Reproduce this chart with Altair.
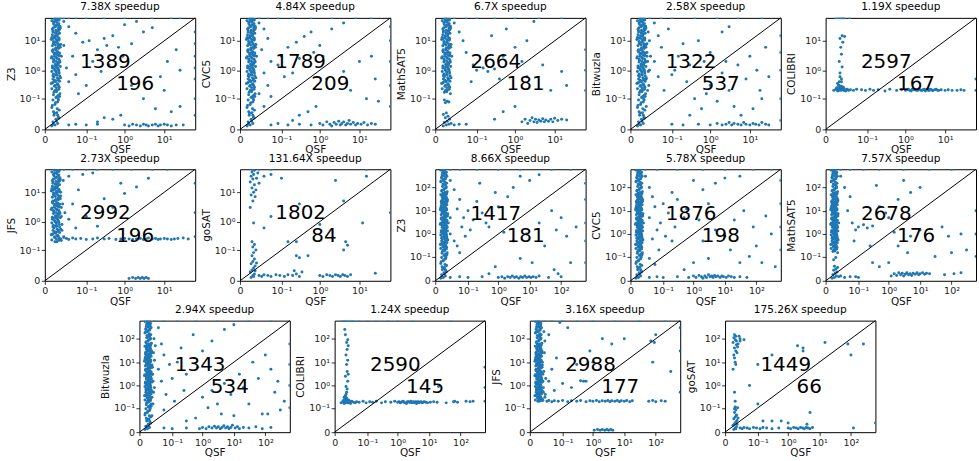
import altair as alt
import pandas as pd

SOLVERS = ["Z3", "CVC5", "MathSAT5", "Bitwuzla", "COLIBRI", "JFS", "goSAT",
           "Z3", "CVC5", "MathSAT5", "Bitwuzla", "COLIBRI", "JFS", "goSAT"]
TIMEOUTS = [60, 60, 60, 60, 60, 60, 60, 600, 600, 600, 600, 600, 600, 600]
SPEEDUPS = ["7.38X speedup", "4.84X speedup", "6.7X speedup", "2.58X speedup", "1.19X speedup",
            "2.73X speedup", "131.64X speedup", "8.66X speedup", "5.78X speedup", "7.57X speedup",
            "2.94X speedup", "1.24X speedup", "3.16X speedup", "175.26X speedup"]
ABOVE = [1389, 1789, 2664, 1322, 2597, 2992, 1802, 1417, 1876, 2678, 1343, 2590, 2988, 1449]
BELOW = [196, 209, 181, 537, 167, 196, 84, 181, 198, 176, 534, 145, 177, 66]
TICKS_60 = [0, 0.1, 1, 10]
TICKS_600 = [0, 0.1, 1, 10, 100]
# anchor of the two count labels (upper-left, lower-right) in data units
TEXT_AT_60 = [(0.067, 1.19), (0.61, 0.20)]
TEXT_AT_600 = [(0.123, 4.2), (1.85, 0.46)]

# (QSF time, solver time) pairs
BAND60 = [
    (0.005, 0.003), (0.008, 0.004), (0.011, 0.006), (0.006, 0.008), (0.009, 0.012), (0.012, 0.016),
    (0.007, 0.02), (0.010, 0.027), (0.013, 0.035), (0.005, 0.045), (0.008, 0.06), (0.011, 0.075),
    (0.006, 0.09), (0.009, 0.11), (0.012, 0.13), (0.014, 0.15), (0.007, 0.17), (0.010, 0.2),
    (0.005, 0.23), (0.013, 0.26), (0.008, 0.3), (0.011, 0.34), (0.006, 0.38), (0.009, 0.43),
    (0.012, 0.5), (0.015, 0.55), (0.007, 0.6), (0.010, 0.7), (0.013, 0.8), (0.005, 0.9),
    (0.008, 1.0), (0.011, 1.15), (0.006, 1.3), (0.009, 1.5), (0.012, 1.7), (0.014, 1.9),
    (0.007, 2.2), (0.010, 2.5), (0.005, 2.9), (0.013, 3.3), (0.008, 3.8), (0.011, 4.3),
    (0.006, 5.0), (0.009, 5.7), (0.012, 6.5), (0.015, 7.5), (0.007, 8.5), (0.010, 10),
    (0.013, 11.5), (0.005, 13), (0.008, 15), (0.011, 17), (0.006, 20), (0.009, 23),
    (0.012, 27), (0.014, 31), (0.007, 36), (0.010, 42), (0.005, 48), (0.013, 55),
    (0.008, 58), (0.011, 0.02), (0.009, 0.7), (0.006, 12), (0.012, 0.09), (0.016, 3),
    (0.0065, 0.005), (0.0095, 0.009), (0.0125, 0.014), (0.0075, 0.025), (0.0105, 0.04), (0.0055, 0.055),
    (0.0085, 0.07), (0.0115, 0.1), (0.0135, 0.12), (0.0065, 0.14), (0.0095, 0.18), (0.0125, 0.22),
    (0.0075, 0.28), (0.0105, 0.32), (0.0055, 0.36), (0.0085, 0.4), (0.0115, 0.46), (0.0135, 0.65),
    (0.0065, 0.75), (0.0095, 0.85), (0.0125, 0.95), (0.0075, 1.1), (0.0105, 1.25), (0.0055, 1.4),
    (0.0085, 1.6), (0.0115, 1.8), (0.0135, 2.1), (0.0065, 2.4), (0.0095, 2.7), (0.0125, 3.1),
    (0.0075, 3.5), (0.0105, 4), (0.0055, 4.6), (0.0085, 5.3), (0.0115, 6), (0.0135, 7),
    (0.0065, 8), (0.0095, 9), (0.0125, 10.5), (0.0075, 12.5), (0.0105, 14), (0.0055, 16),
    (0.0085, 18.5), (0.0115, 21), (0.0135, 24), (0.0065, 28), (0.0095, 33), (0.0125, 38),
    (0.0075, 45), (0.0105, 52),
    (0.0045, 0.35), (0.0075, 0.45), (0.0105, 0.55), (0.0135, 0.42), (0.006, 0.65), (0.009, 0.95),
    (0.012, 1.05), (0.0145, 1.35), (0.0055, 1.2), (0.0085, 1.35), (0.0115, 1.5), (0.0065, 1.9),
    (0.0095, 2.0), (0.0125, 2.4), (0.0045, 2.6), (0.0075, 3.0), (0.0105, 3.4), (0.0135, 3.9),
    (0.006, 4.2), (0.009, 4.8), (0.012, 5.5), (0.0145, 6.0), (0.0055, 6.8), (0.0085, 7.2),
    (0.0115, 8.0), (0.0065, 9.5), (0.0095, 11), (0.0125, 12.5), (0.0045, 11), (0.0075, 13.5),
    (0.0105, 16), (0.0135, 18), (0.006, 22), (0.009, 19), (0.012, 23), (0.0145, 27),
    (0.0055, 25), (0.0085, 30), (0.0115, 34), (0.0065, 40), (0.0095, 46), (0.0125, 50),
    (0.0075, 55), (0.0105, 60), (0.006, 0.5), (0.0095, 0.25), (0.012, 0.3), (0.008, 0.2),
    (0.0105, 0.12), (0.0065, 0.03),
]
BAND600_TOP = [
    (0.006, 70), (0.009, 80), (0.012, 95), (0.007, 110), (0.010, 130), (0.013, 150), (0.005, 175),
    (0.008, 200), (0.011, 230), (0.006, 270), (0.009, 310), (0.012, 360), (0.007, 420), (0.010, 480),
    (0.005, 550), (0.008, 590), (0.014, 65), (0.011, 120), (0.006, 250),
    (0.0065, 75), (0.0095, 90), (0.0125, 105), (0.0075, 140), (0.0105, 165), (0.0055, 190),
    (0.0085, 220), (0.0115, 260), (0.0135, 300), (0.0065, 340), (0.0095, 390), (0.0125, 450),
    (0.0075, 520), (0.0105, 580),
]

Z3_60 = [
    (0.02, 45), (0.03, 30), (0.05, 18), (0.02, 7), (0.04, 3), (0.025, 1.2), (0.03, 0.4), (0.06, 0.15),
    (0.1, 0.3), (0.2, 5), (0.3, 12), (0.15, 2), (0.5, 15), (1, 35), (2, 45), (0.4, 1.5), (0.25, 0.9),
    (0.7, 6), (3, 20), (5, 28), (0.12, 10), (1.5, 8), (0.08, 9), (0.35, 7), (0.9, 3), (0.05, 0.7),
    (0.02, 60), (0.03, 60), (0.05, 60), (0.1, 60), (0.3, 60), (1, 60), (5, 60), (15, 60), (0.015, 60), (25, 60),
    (1.5, 0.3), (3, 0.1), (8, 0.6), (12, 2), (20, 5), (25, 0.05), (10, 0.2), (0.8, 0.02), (0.5, 0.012),
    (0.3, 0.015), (0.2, 0.008), (15, 0.03), (6, 0.04), (25, 1),
    (0.03, 0.004), (0.05, 0.005), (0.1, 0.004), (0.2, 0.005), (1.0, 0.004), (1.3, 0.003), (1.6, 0.005),
    (2, 0.004), (2.5, 0.003), (3, 0.005), (3.5, 0.004), (4, 0.003), (5, 0.004), (6, 0.005), (7, 0.003),
    (8, 0.004), (10, 0.005), (12, 0.004), (15, 0.003), (20, 0.004), (30, 0.004),
    (60, 0.5), (60, 3), (60, 8), (60, 0.02), (60, 20), (60, 0.1), (60, 1.2),
]
CVC5_60 = [
    (0.02, 40), (0.03, 25), (0.04, 12), (0.025, 5), (0.05, 2), (0.03, 0.8), (0.04, 0.3), (0.02, 0.15),
    (0.08, 1.5), (0.1, 3), (0.15, 6), (0.25, 9), (0.4, 14), (0.6, 20), (1, 7), (2, 25), (4, 40), (0.2, 0.8),
    (0.3, 2.5), (0.7, 4), (0.05, 0.12), (0.12, 0.6), (1.2, 3), (0.03, 0.05),
    (0.02, 60), (0.04, 60), (0.08, 60), (0.2, 60), (0.6, 60), (2, 60), (8, 60), (20, 60),
    (1.5, 0.5), (4, 0.9), (10, 2), (20, 3), (0.8, 0.05), (0.5, 0.03), (0.3, 0.02), (15, 0.1), (25, 0.5),
    (6, 0.2), (0.2, 0.01), (30, 0.08),
    (0.05, 0.004), (0.08, 0.006), (0.15, 0.004), (0.3, 0.005), (0.6, 0.004), (1.0, 0.006), (1.2, 0.004),
    (1.5, 0.008), (1.8, 0.005), (2, 0.003), (2.3, 0.007), (2.6, 0.005), (3, 0.009), (3.3, 0.004),
    (3.6, 0.006), (4, 0.008), (4.5, 0.004), (5, 0.006), (5.5, 0.01), (6, 0.005), (7, 0.007), (8, 0.004),
    (9, 0.006), (11, 0.005), (13, 0.007), (16, 0.004), (20, 0.006), (25, 0.005),
    (60, 0.3), (60, 2), (60, 10), (60, 0.05), (60, 30),
]
MATH_60 = [
    (0.008, 0.07), (0.01, 0.08), (0.007, 0.09), (0.012, 0.075),
    (0.006, 0.003), (0.009, 0.004), (0.012, 0.005), (0.007, 0.007), (0.010, 0.009), (0.013, 0.012),
    (0.008, 0.015), (0.011, 0.018), (0.006, 0.022), (0.009, 0.026), (0.015, 0.006), (0.02, 0.004),
    (0.03, 0.005), (0.05, 0.005),
    (0.02, 40), (0.03, 20), (0.04, 10), (0.05, 4), (0.08, 1.5), (0.1, 1), (0.15, 1.2), (0.2, 0.9),
    (0.3, 1.1), (0.5, 3), (1, 6), (2, 10), (0.25, 15), (0.6, 25), (3, 45), (0.07, 0.4), (0.4, 0.5), (1.5, 2),
    (0.02, 60), (0.05, 60), (0.1, 60), (0.3, 60), (1, 60), (4, 60), (15, 60),
    (2, 0.6), (5, 1.5), (15, 0.9), (20, 0.3), (8, 0.2), (1, 0.05), (0.5, 0.03), (0.3, 0.012),
    (1.5, 0.008), (1.8, 0.012), (2.1, 0.006), (2.4, 0.01), (2.7, 0.015), (3, 0.008), (3.3, 0.012),
    (3.6, 0.007), (4, 0.011), (4.5, 0.009), (5, 0.013), (5.5, 0.008), (6, 0.011), (7, 0.009), (8, 0.012),
    (9, 0.008), (10, 0.014), (12, 0.01), (15, 0.012), (20, 0.011),
    (60, 1), (60, 5), (60, 0.2),
]
BITW_60 = [
    (0.015, 0.5), (0.017, 2), (0.016, 8), (0.018, 20), (0.015, 0.05), (0.017, 0.2), (0.02, 1), (0.016, 4),
    (0.018, 0.9), (0.02, 10), (0.019, 0.3), (0.022, 3),
    (0.03, 40), (0.04, 15), (0.05, 6), (0.03, 2), (0.04, 0.6), (0.06, 0.2), (0.1, 0.7), (0.15, 3), (0.2, 8),
    (0.3, 1.5), (0.5, 10), (1, 4), (2, 20), (0.08, 25), (0.25, 0.4), (0.7, 2), (3, 30), (0.12, 1),
    (0.02, 60), (0.05, 60), (0.1, 60), (0.4, 60), (1.5, 60), (5, 60), (20, 60),
    (1, 0.3), (2, 0.8), (3, 0.2), (5, 1.5), (8, 0.5), (10, 3), (15, 1), (20, 0.1), (25, 6), (4, 0.05),
    (1.5, 0.08), (0.6, 0.04), (0.4, 0.1), (0.3, 0.02), (6, 0.02), (12, 0.04), (18, 0.2), (30, 0.6),
    (0.8, 0.15), (2.5, 2),
    (0.1, 0.005), (0.2, 0.004), (0.5, 0.005), (1, 0.004), (1.5, 0.006), (2, 0.004), (2.5, 0.005),
    (3, 0.007), (3.5, 0.004), (4, 0.006), (5, 0.005), (6, 0.004), (7, 0.007), (8, 0.005), (10, 0.004),
    (12, 0.006), (14, 0.005), (17, 0.004), (20, 0.007), (25, 0.005), (30, 0.004),
    (60, 0.1), (60, 1), (60, 4), (60, 15), (60, 0.01),
]
COLIBRI_60 = [
    (0.012, 0.3), (0.015, 0.5), (0.013, 0.8), (0.016, 1.3), (0.012, 2), (0.015, 3.5), (0.014, 6),
    (0.017, 9), (0.013, 12), (0.016, 15), (0.02, 14), (0.015, 0.4), (0.013, 0.6), (0.017, 0.25),
    (0.008, 60), (0.01, 60), (0.012, 60), (0.014, 60), (0.016, 60), (0.018, 60), (0.02, 60), (0.03, 60),
    (0.006, 0.2), (0.008, 0.22), (0.01, 0.19), (0.012, 0.21), (0.014, 0.2), (0.016, 0.23), (0.018, 0.2),
    (0.02, 0.21), (0.022, 0.19), (0.025, 0.22), (0.028, 0.2), (0.032, 0.21), (0.04, 0.2), (0.05, 0.22),
    (0.07, 0.21), (0.09, 0.2), (0.12, 0.22), (0.15, 0.2), (0.2, 0.21), (0.3, 0.19), (0.4, 0.22), (0.6, 0.2),
    (0.8, 0.21), (1.0, 0.2), (1.2, 0.22), (1.4, 0.19), (1.6, 0.21), (1.9, 0.2), (2.2, 0.22), (2.5, 0.2),
    (2.8, 0.21), (3.2, 0.19), (3.6, 0.22), (4, 0.2), (4.5, 0.21), (5, 0.2), (6, 0.22), (7, 0.2), (8, 0.21),
    (10, 0.2), (12, 0.21), (15, 0.2), (20, 0.2), (25, 0.21), (30, 0.2),
    (0.009, 0.25), (0.011, 0.3), (0.013, 0.27), (0.01, 0.35), (0.015, 0.28), (0.018, 0.26), (0.012, 0.4),
    (0.0095, 0.21), (0.0105, 0.23), (0.0115, 0.2), (0.0125, 0.24), (0.0135, 0.22), (0.0145, 0.25),
    (0.0155, 0.21), (0.0165, 0.24), (0.0175, 0.22), (0.019, 0.23), (0.021, 0.2), (0.024, 0.21),
    (1.1, 0.21), (1.3, 0.2), (1.5, 0.22), (1.75, 0.21), (2.05, 0.2), (2.35, 0.21), (2.65, 0.2),
    (3.0, 0.22), (3.4, 0.21), (3.8, 0.2), (4.2, 0.22), (4.8, 0.2), (5.5, 0.21), (6.5, 0.2),
    (60, 0.2), (60, 0.5),
]
JFS_60 = [
    (0.015, 0.25), (0.017, 0.5), (0.016, 1.5), (0.018, 4), (0.02, 0.3), (0.015, 10), (0.019, 25),
    (0.017, 0.8), (0.022, 2), (0.016, 0.22), (0.02, 0.28),
    (0.025, 0.26), (0.03, 0.24), (0.04, 0.27), (0.05, 0.25), (0.07, 0.26), (0.1, 0.24), (0.15, 0.25),
    (0.2, 0.27), (0.3, 0.25), (0.4, 0.26), (0.6, 0.24), (0.8, 0.25), (1, 0.26), (1.3, 0.25), (1.6, 0.24),
    (2, 0.25), (2.5, 0.26), (3, 0.24), (3.5, 0.25), (4, 0.27), (5, 0.25), (6, 0.26), (7, 0.24), (8, 0.25),
    (10, 0.26), (12, 0.25), (15, 0.24), (18, 0.25), (22, 0.26), (30, 0.27), (40, 0.25),
    (0.03, 1.2), (0.05, 0.6), (0.04, 4), (0.06, 12), (0.1, 1.5), (0.2, 0.7), (0.3, 6), (0.5, 3), (0.8, 20),
    (1, 9), (2, 15), (4, 30), (0.15, 45), (0.03, 35), (0.08, 40),
    (0.02, 60), (0.04, 60), (0.1, 60), (0.2, 60), (0.5, 60), (1.5, 60), (5, 60), (12, 60),
    (1.3, 0.002), (1.6, 0.003), (1.9, 0.002), (2.2, 0.003), (2.5, 0.002), (2.8, 0.003), (3.1, 0.002),
    (3.5, 0.003), (4, 0.002),
    (60, 0.3), (60, 2), (60, 20),
]
GOSAT_60 = [
    (0.008, 3), (0.011, 5), (0.009, 8), (0.012, 10), (0.01, 14), (0.013, 18), (0.008, 22), (0.011, 28),
    (0.009, 35), (0.012, 40), (0.01, 48), (0.013, 55), (0.015, 12), (0.016, 30), (0.014, 7), (0.02, 20),
    (0.018, 45),
    (0.009, 0.003), (0.011, 0.005), (0.013, 0.007), (0.008, 0.01), (0.01, 0.013), (0.012, 0.017),
    (0.014, 0.022), (0.009, 0.028), (0.011, 0.035), (0.013, 0.045), (0.01, 0.06), (0.012, 0.08),
    (0.015, 0.1), (0.011, 0.13), (0.013, 0.16), (0.01, 0.2), (0.014, 0.012), (0.016, 0.03), (0.012, 0.004),
    (0.02, 0.005), (0.025, 0.004), (0.03, 0.006), (0.04, 0.005), (0.05, 0.004), (0.07, 0.006),
    (0.09, 0.005), (0.12, 0.004), (0.15, 0.006), (0.2, 0.005), (0.25, 0.007), (0.3, 0.004), (0.22, 0.012),
    (0.35, 0.01),
    (1.0, 0.005), (1.2, 0.004), (1.5, 0.006), (1.8, 0.005), (2.1, 0.004), (2.5, 0.006), (2.9, 0.005),
    (3.3, 0.004), (3.8, 0.006), (4.3, 0.005), (5, 0.004), (6, 0.006),
    (0.012, 0.9), (0.03, 0.6), (0.05, 1.5), (0.03, 35), (0.05, 40), (0.1, 30), (0.3, 4), (0.25, 0.2),
    (0.15, 0.2), (1, 0.8), (4, 5), (4.5, 0.2), (5, 0.15), (12, 0.9), (15, 35), (2.5, 25), (0.5, 0.06),
    (0.3, 0.05), (0.25, 0.06), (4, 0.1), (25, 0.008),
    (0.01, 60), (0.02, 60), (0.05, 60), (15, 60), (60, 2),
]
Z3_600 = [
    (0.02, 200), (0.03, 80), (0.05, 30), (0.04, 12), (0.02, 5), (0.06, 2), (0.08, 0.8), (0.1, 10),
    (0.15, 4), (0.2, 25), (0.3, 8), (0.5, 2), (0.8, 60), (1, 15), (2, 40), (3, 100), (5, 300), (10, 200),
    (0.03, 0.5), (0.05, 0.15), (0.12, 1.5), (0.4, 3), (1.5, 1.2), (0.25, 150), (0.07, 5), (0.02, 1),
    (0.04, 0.3), (20, 350),
    (0.02, 600), (0.05, 600), (0.2, 600), (1, 600), (5, 600), (50, 600), (200, 600),
    (3, 0.5), (8, 1), (20, 3), (50, 10), (100, 5), (70, 1.5), (150, 0.8), (300, 2), (30, 0.3), (5, 0.08),
    (12, 0.05), (0.8, 0.03), (0.5, 0.01), (60, 0.02), (200, 0.05), (80, 0.01), (20, 0.006),
    (0.02, 0.004), (0.05, 0.005), (0.1, 0.004), (0.3, 0.005), (1, 0.004), (1.3, 0.005), (1.6, 0.003),
    (2, 0.005), (2.4, 0.004), (2.8, 0.006), (3.3, 0.004), (3.8, 0.005), (4.5, 0.003), (5.2, 0.005),
    (6, 0.004), (7, 0.006), (8, 0.004), (9.5, 0.005), (11, 0.004), (13, 0.005), (16, 0.004), (40, 0.004),
    (100, 0.005),
    (600, 0.5), (600, 3), (600, 30), (600, 0.05), (600, 150),
]
CVC5_600 = [
    (0.02, 300), (0.03, 100), (0.04, 40), (0.05, 15), (0.03, 5), (0.06, 1.5), (0.08, 3), (0.1, 20),
    (0.15, 8), (0.2, 60), (0.3, 30), (0.5, 5), (1, 200), (2, 80), (3, 20), (5, 150), (10, 250), (0.04, 0.6),
    (0.07, 0.2), (0.12, 0.8), (0.25, 2), (0.6, 12), (1.5, 4), (0.03, 0.08), (0.05, 0.04), (30, 300),
    (0.2, 0.5),
    (0.02, 600), (0.06, 600), (0.3, 600), (2, 600), (10, 600), (80, 600), (300, 600),
    (2, 0.5), (5, 1.5), (10, 0.8), (20, 4), (40, 10), (80, 2), (100, 0.3), (200, 6), (300, 1), (150, 0.05),
    (60, 0.1), (30, 0.05), (15, 0.2), (3, 0.08), (1, 0.05), (0.5, 0.02), (400, 0.03),
    (0.03, 0.004), (0.06, 0.005), (0.1, 0.004), (0.3, 0.005), (0.7, 0.004), (1, 0.006), (1.2, 0.004),
    (1.5, 0.007), (1.8, 0.005), (2, 0.003), (2.3, 0.006), (2.6, 0.004), (3, 0.008), (3.4, 0.005),
    (3.8, 0.006), (4.2, 0.004), (4.7, 0.007), (5.2, 0.005), (6, 0.006), (7, 0.004), (8, 0.006),
    (9, 0.005), (11, 0.004), (13, 0.006), (16, 0.005), (20, 0.004), (30, 0.005), (50, 0.004),
    (600, 0.2), (600, 2), (600, 20), (600, 200),
]
MATH_600 = [
    (0.008, 0.07), (0.011, 0.09), (0.006, 0.003), (0.009, 0.004), (0.012, 0.006), (0.007, 0.008),
    (0.010, 0.011), (0.013, 0.014), (0.008, 0.018), (0.011, 0.022), (0.014, 0.027), (0.009, 0.032),
    (0.016, 0.005), (0.02, 0.006), (0.03, 0.004), (0.05, 0.005), (0.08, 0.005), (0.1, 0.004),
    (0.02, 300), (0.03, 100), (0.05, 40), (0.04, 10), (0.06, 3), (0.08, 1.5), (0.1, 2), (0.15, 2.5),
    (0.2, 1.8), (0.3, 2.2), (0.5, 15), (1, 5), (2, 30), (0.4, 120), (3, 200), (0.07, 0.5), (0.25, 0.3),
    (1.5, 1.2), (5, 60), (10, 100), (0.8, 8),
    (0.02, 600), (0.05, 600), (0.15, 600), (0.5, 600), (3, 600), (20, 600), (100, 600),
    (2, 0.3), (5, 0.8), (10, 1.5), (20, 0.5), (50, 2), (80, 0.8), (100, 0.15), (200, 1), (300, 0.2),
    (30, 0.1), (1, 0.05), (0.5, 0.03), (0.3, 0.05), (4, 0.15),
    (1.2, 0.006), (1.5, 0.01), (1.8, 0.007), (2.1, 0.012), (2.4, 0.008), (2.7, 0.011), (3, 0.006),
    (3.4, 0.009), (3.8, 0.012), (4.3, 0.008), (4.8, 0.01), (5.4, 0.007), (6, 0.011), (7, 0.009),
    (8, 0.012), (9, 0.008), (10, 0.01), (12, 0.012), (14, 0.009), (16, 0.011), (20, 0.01), (60, 0.008),
    (120, 0.01), (200, 0.012),
    (600, 1), (600, 10), (600, 0.1),
]
BITW_600 = [
    (0.015, 0.3), (0.017, 1.5), (0.016, 6), (0.018, 25), (0.015, 0.04), (0.017, 0.15), (0.02, 0.8),
    (0.016, 3), (0.019, 100), (0.02, 12), (0.018, 0.5), (0.022, 50),
    (0.03, 300), (0.04, 60), (0.05, 20), (0.03, 5), (0.04, 1.5), (0.06, 0.4), (0.1, 2), (0.15, 10),
    (0.2, 40), (0.3, 3), (0.5, 150), (1, 30), (2, 80), (0.08, 8), (0.25, 0.6), (0.7, 6), (5, 250),
    (0.12, 0.2), (10, 400), (0.05, 0.08),
    (0.02, 600), (0.05, 600), (0.15, 600), (0.6, 600), (3, 600), (30, 600), (150, 600),
    (1, 0.3), (2, 0.6), (3, 0.15), (5, 1.2), (8, 0.4), (15, 3), (20, 0.8), (40, 10), (60, 2), (100, 20),
    (150, 5), (200, 0.5), (300, 0.08), (80, 0.05), (30, 0.15), (10, 0.04), (4, 0.05), (1.5, 0.1),
    (0.6, 0.03), (0.3, 0.02), (400, 0.2), (250, 1.5), (120, 0.05),
    (0.05, 0.005), (0.1, 0.004), (0.3, 0.005), (0.8, 0.004), (1, 0.006), (1.3, 0.004), (1.6, 0.007),
    (2, 0.005), (2.4, 0.008), (2.8, 0.005), (3.2, 0.007), (3.7, 0.004), (4.2, 0.006), (4.8, 0.009),
    (5.5, 0.005), (6.3, 0.007), (7, 0.004), (8, 0.006), (9, 0.01), (11, 0.005), (13, 0.007), (15, 0.004),
    (20, 0.006), (30, 0.005), (50, 0.007), (80, 0.004), (150, 0.006),
    (600, 0.1), (600, 1), (600, 8), (600, 60),
]
COLIBRI_600 = [
    (0.012, 0.3), (0.014, 0.5), (0.013, 0.9), (0.016, 1.5), (0.012, 2.5), (0.015, 4), (0.014, 8),
    (0.016, 12), (0.013, 20), (0.015, 35), (0.017, 50), (0.014, 70), (0.016, 90), (0.012, 150),
    (0.011, 250), (0.015, 0.7), (0.013, 0.4), (0.017, 3),
    (0.008, 600), (0.01, 600), (0.012, 600), (0.015, 600), (0.02, 600), (0.025, 600), (0.03, 600),
    (0.05, 600), (0.1, 600), (0.2, 600), (0.5, 600), (1, 600), (3, 600), (50, 600),
    (0.006, 0.17), (0.008, 0.19), (0.01, 0.16), (0.012, 0.18), (0.014, 0.2), (0.016, 0.17), (0.018, 0.19),
    (0.02, 0.18), (0.022, 0.16), (0.025, 0.2), (0.03, 0.18), (0.035, 0.17), (0.04, 0.19), (0.05, 0.18),
    (0.07, 0.2), (0.09, 0.17), (0.12, 0.19), (0.15, 0.18), (0.2, 0.2), (0.3, 0.17), (0.4, 0.19), (0.6, 0.18),
    (0.8, 0.2), (1.0, 0.18), (1.2, 0.17), (1.4, 0.19), (1.6, 0.18), (1.9, 0.16), (2.2, 0.19), (2.5, 0.18),
    (2.8, 0.17), (3.2, 0.19), (3.6, 0.18), (4, 0.16), (4.5, 0.19), (5, 0.18), (6, 0.17), (7, 0.19),
    (8, 0.18), (9, 0.17), (11, 0.18), (14, 0.19), (18, 0.18), (35, 0.17), (60, 0.19), (65, 0.2),
    (80, 0.18), (150, 0.2), (200, 0.19), (250, 0.2),
    (0.009, 0.22), (0.011, 0.26), (0.013, 0.24), (0.01, 0.3), (0.015, 0.22), (0.018, 0.23), (0.012, 0.35),
    (0.014, 0.28),
    (0.0095, 0.18), (0.0105, 0.2), (0.0115, 0.17), (0.0125, 0.21), (0.0135, 0.19), (0.0145, 0.22),
    (0.0155, 0.18), (0.0165, 0.21), (0.0175, 0.17), (0.019, 0.2), (0.021, 0.19),
    (1.1, 0.19), (1.3, 0.18), (1.5, 0.2), (1.75, 0.17), (2.05, 0.19), (2.35, 0.18), (2.65, 0.2),
    (3.0, 0.18), (3.4, 0.17), (3.8, 0.19), (4.2, 0.18), (4.8, 0.17), (5.5, 0.19), (6.5, 0.18),
    (20, 0.9), (600, 0.2), (600, 6), (600, 0.8),
]
JFS_600 = [
    (0.015, 0.25), (0.017, 0.5), (0.016, 1.5), (0.018, 4), (0.02, 0.3), (0.015, 10), (0.019, 25),
    (0.017, 0.8), (0.022, 2), (0.016, 0.22), (0.02, 80), (0.018, 200), (0.021, 0.4),
    (0.025, 0.2), (0.03, 0.22), (0.04, 0.19), (0.05, 0.21), (0.07, 0.2), (0.1, 0.22), (0.15, 0.19),
    (0.2, 0.21), (0.3, 0.2), (0.4, 0.22), (0.6, 0.19), (0.8, 0.21), (1, 0.2), (1.3, 0.22), (1.6, 0.19),
    (2, 0.21), (2.5, 0.2), (3, 0.22), (3.5, 0.19), (4, 0.21), (5, 0.2), (6, 0.22), (7, 0.19), (8, 0.21),
    (10, 0.2), (12, 0.22), (15, 0.19), (18, 0.21), (60, 0.2), (80, 0.22), (100, 0.19), (150, 0.21),
    (200, 0.2),
    (0.03, 1.5), (0.05, 0.6), (0.04, 5), (0.06, 15), (0.1, 1.2), (0.2, 0.8), (0.3, 8), (0.5, 1.5),
    (0.8, 30), (1, 10), (2, 100), (4, 60), (0.15, 300), (0.03, 150), (0.08, 500), (0.6, 1.5), (0.4, 1.6),
    (10, 100), (80, 10), (100, 150), (300, 4), (70, 80), (90, 70),
    (0.02, 600), (0.04, 600), (0.1, 600), (0.3, 600), (1, 600), (5, 600), (30, 600), (200, 600),
    (1.1, 0.002), (1.4, 0.003), (1.7, 0.002), (2, 0.003), (2.4, 0.002), (2.8, 0.003), (3.2, 0.002),
    (3.7, 0.003), (4.3, 0.002),
    (600, 0.5), (600, 30), (600, 300),
]
GOSAT_600 = [
    (0.008, 5), (0.011, 10), (0.009, 20), (0.012, 30), (0.01, 40), (0.013, 55), (0.008, 70), (0.011, 90),
    (0.009, 110), (0.012, 130), (0.01, 150), (0.013, 80), (0.015, 45), (0.016, 60), (0.014, 25),
    (0.02, 100), (0.018, 130), (0.01, 15), (0.012, 8),
    (0.009, 0.003), (0.011, 0.005), (0.013, 0.007), (0.008, 0.01), (0.01, 0.013), (0.012, 0.017),
    (0.014, 0.022), (0.009, 0.028), (0.011, 0.035), (0.013, 0.045), (0.01, 0.06), (0.012, 0.08),
    (0.015, 0.1), (0.011, 0.11), (0.013, 0.04), (0.01, 0.09), (0.014, 0.012), (0.016, 0.03),
    (0.012, 0.004), (0.011, 0.2), (0.01, 0.5),
    (0.02, 0.005), (0.025, 0.004), (0.03, 0.006), (0.04, 0.005), (0.05, 0.004), (0.07, 0.006),
    (0.09, 0.005), (0.12, 0.004), (0.15, 0.006), (0.2, 0.005), (0.3, 0.004), (0.5, 0.005),
    (1.0, 0.005), (1.2, 0.004), (1.5, 0.006), (1.8, 0.005), (2.1, 0.004), (2.5, 0.006), (2.9, 0.005),
    (3.3, 0.004), (3.8, 0.006), (4.3, 0.005), (5, 0.004), (6, 0.006),
    (0.02, 80), (0.03, 90), (0.05, 1), (0.1, 8), (0.3, 20), (0.1, 0.15), (0.15, 0.02), (0.3, 0.02),
    (0.6, 0.02), (1, 0.015), (4, 0.012), (5, 0.06), (2, 50), (3, 40), (3, 30), (15, 70), (80, 60),
    (250, 60), (100, 20), (120, 0.005), (600, 0.015),
]

BAND600 = BAND60 + BAND600_TOP
POINTS = [
    BAND60 + Z3_60,
    BAND60 + CVC5_60,
    [p for p in BAND60 if p[1] >= 0.15] + MATH_60,
    BAND60 + BITW_60,
    COLIBRI_60,
    [p for p in BAND60 if p[1] >= 0.2] + JFS_60,
    GOSAT_60,
    BAND600 + Z3_600,
    BAND600 + CVC5_600,
    [p for p in BAND600 if p[1] >= 0.15] + MATH_600,
    BAND600 + BITW_600,
    COLIBRI_600,
    [p for p in BAND600 if p[1] >= 0.2] + JFS_600,
    GOSAT_600,
]

LABEL_EXPR = ("datum.value == 0 ? '0' : datum.value < 0.5 ? '10\u207b\u00b9' : "
              "datum.value < 5 ? '10\u2070' : datum.value < 50 ? '10\u00b9' : '10\u00b2'")

W, H = 151, 112
BLUE = "#1f77b4"


def panel(i):
    m = TIMEOUTS[i]
    ticks = TICKS_60 if m == 60 else TICKS_600
    (ax, ay), (bx, by) = TEXT_AT_60 if m == 60 else TEXT_AT_600
    sc = alt.Scale(type="symlog", constant=0.01, domain=[0, m], nice=False)
    x_axis = alt.Axis(values=ticks, labelExpr=LABEL_EXPR, title="QSF",
                      labelFlush=False, labelOverlap=False, titlePadding=1)
    y_axis = alt.Axis(values=ticks, labelExpr=LABEL_EXPR, title=SOLVERS[i],
                      labelOverlap=False, titlePadding=3)
    enc = dict(x=alt.X("qsf:Q", scale=sc, axis=x_axis), y=alt.Y("solver:Q", scale=sc, axis=y_axis))
    df = pd.DataFrame(POINTS[i], columns=["qsf", "solver"])
    pts = alt.Chart(df).mark_circle(size=9, color=BLUE, opacity=1, clip=True).encode(**enc)
    diag = alt.Chart(pd.DataFrame({"qsf": [0, m], "solver": [0, m]})).mark_line(
        color="black", strokeWidth=1).encode(**enc)
    txt = alt.Chart(pd.DataFrame({"qsf": [ax, bx], "solver": [ay, by],
                                  "t": [str(ABOVE[i]), str(BELOW[i])]})).mark_text(
        align="left", baseline="alphabetic", fontSize=20, font="DejaVu Sans", color="black").encode(
        text="t:N", **enc)
    return alt.layer(pts, diag, txt).properties(
        width=W, height=H, title=alt.TitleParams(SPEEDUPS[i], anchor="middle"))


spacer = alt.Chart(pd.DataFrame({"v": [0]})).mark_point(opacity=0).encode(
    x=alt.X("v:Q", axis=None), y=alt.Y("v:Q", axis=None)
).properties(width=50, height=H, view=alt.ViewBackground(strokeOpacity=0))

row1 = alt.hconcat(*[panel(i) for i in range(0, 5)], spacing=45, bounds="flush")
row2 = alt.hconcat(*[panel(i) for i in range(5, 10)], spacing=45, bounds="flush")
row3 = alt.hconcat(spacer, *[panel(i) for i in range(10, 14)], spacing=45, bounds="flush")

chart = alt.vconcat(row1, row2, row3, spacing=-4).properties(
    padding={"left": 5, "top": 0, "right": 0, "bottom": 0}
).configure_view(
    stroke="black", strokeWidth=1
).configure_axis(
    domain=False, grid=False, tickColor="black", tickSize=3.5, tickWidth=0.8,
    labelFont="DejaVu Sans", labelFontSize=9.5, labelColor="#222", labelPadding=1.5,
    titleFont="DejaVu Sans", titleFontSize=10.5, titleFontWeight="normal", titleColor="#111",
).configure_title(
    font="DejaVu Sans", fontSize=10.6, fontWeight="normal", color="black", offset=3
)

chart.save("out.html", embed_options={"renderer": "svg", "actions": False})
